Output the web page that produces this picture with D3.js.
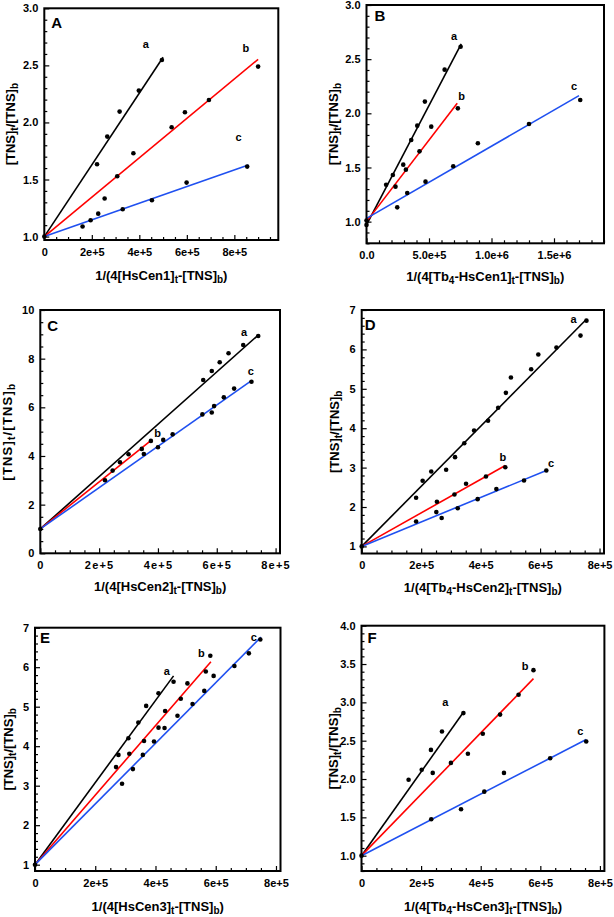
<!DOCTYPE html>
<html><head><meta charset="utf-8">
<script src="https://cdn.jsdelivr.net/npm/d3@7"></script>
<style>
body{margin:0;background:#fff}
svg{display:block}
text{font-family:"Liberation Sans",Arial,Helvetica,sans-serif;font-weight:bold;fill:#000}
</style>
</head><body>
<svg id="chart" width="614" height="917"></svg>
<script>
// ---------- DATA ----------
// Panel A
const A_a = [[0,1],[2.22e5,1.634],[2.65e5,1.876],[3.17e5,2.095],[3.98e5,2.279],[4.95e5,2.547]];
const A_b = [[2.54e5,1.333],[3.07e5,1.528],[3.75e5,1.73],[5.36e5,1.958],[5.92e5,2.089],[6.93e5,2.197],[9.0e5,2.489]];
const A_c = [[1.61e5,1.088],[1.95e5,1.143],[2.27e5,1.201],[3.30e5,1.239],[4.53e5,1.318],[5.99e5,1.473],[8.54e5,1.613]];
const A_fits = [[0,1,5.0e5,2.571],[0,1,9.0e5,2.553],[0,1,8.59e5,1.628]];
const A_labels = [[4.27e5,2.69],[8.49e5,2.655],[8.18e5,1.87]];
// Panel B
const B_a = [[0,0.97],[1.57e5,1.34],[2.11e5,1.43],[2.94e5,1.526],[3.58e5,1.754],[4.06e5,1.886],[4.67e5,2.108],[6.25e5,2.403],[7.53e5,2.615]];
const B_b = [[0,1.01],[2.32e5,1.323],[3.15e5,1.48],[4.24e5,1.649],[5.18e5,1.877],[7.31e5,2.046]];
const B_c = [[2.46e5,1.132],[3.26e5,1.265],[4.72e5,1.369],[6.94e5,1.511],[8.91e5,1.723],[1.30e6,1.902],[1.71e6,2.123]];
const B_fits = [[0,0.97,7.58e5,2.64],[0,1.0,7.26e5,2.092],[0,1.03,1.70e6,2.163]];
const B_labels = [[7.0e5,2.71],[7.61e5,2.157],[1.66e6,2.25]];
// Panel C
const C_a = [[0,1],[5.54e5,7.12],[5.83e5,7.49],[6.1e5,7.85],[6.4e5,8.22],[6.9e5,8.56],[7.41e5,8.93]];
const C_b = [[2.2e5,3.0],[2.46e5,3.4],[2.71e5,3.74],[3.0e5,4.07],[3.45e5,4.29],[3.76e5,4.62]];
const C_c = [[3.52e5,4.08],[4.0e5,4.36],[4.18e5,4.66],[4.5e5,4.89],[5.51e5,5.71],[5.83e5,5.79],[5.91e5,6.05],[6.24e5,6.41],[6.59e5,6.77],[7.18e5,7.05]];
const C_fits = [[0,1,7.41e5,8.97],[0,1,3.79e5,4.66],[0,1,7.18e5,7.1]];
const C_labels = [[6.93e5,9.08],[3.99e5,4.93],[7.16e5,7.49]];
// Panel D
const D_a = [[0,1],[1.83e5,2.234],[2.05e5,2.665],[2.34e5,2.90],[2.84e5,2.944],[3.14e5,3.265],[3.45e5,3.62],[3.78e5,3.94],[4.25e5,4.19],[4.59e5,4.52],[4.85e5,4.897],[5.02e5,5.286],[5.7e5,5.497],[5.94e5,5.87],[6.55e5,6.046],[7.36e5,6.35],[7.56e5,6.73]];
const D_b = [[2.51e5,1.871],[2.53e5,2.133],[3.12e5,2.319],[3.51e5,2.589],[4.18e5,2.775],[4.83e5,3.01]];
const D_c = [[1.83e5,1.634],[2.69e5,1.72],[3.23e5,1.97],[3.9e5,2.2],[4.53e5,2.454],[5.46e5,2.674],[6.21e5,2.927]];
const D_fits = [[0,1,7.56e5,6.765],[0,1,4.83e5,3.054],[0,1,6.21e5,2.927]];
const D_labels = [[7.13e5,6.77],[4.75e5,3.28],[6.37e5,3.11]];
// Panel E
const E_a = [[0,1],[2.69e5,3.47],[2.77e5,3.78],[3.1e5,4.2],[3.43e5,4.6],[3.69e5,5.02],[4.1e5,5.34],[4.6e5,5.63]];
const E_b = [[3.13e5,3.81],[3.62e5,4.13],[4.1e5,4.47],[4.32e5,4.89],[4.84e5,5.2],[5.06e5,5.59],[5.67e5,5.89],[5.82e5,6.29]];
const E_c = [[2.89e5,3.05],[3.25e5,3.42],[3.58e5,3.78],[3.95e5,4.12],[4.3e5,4.46],[4.73e5,4.77],[5.23e5,5.07],[5.62e5,5.4],[5.93e5,5.78],[6.62e5,6.03],[7.1e5,6.35],[7.48e5,6.7]];
const E_fits = [[0,1,4.6e5,5.78],[0,1,5.84e5,6.14],[0,1,7.5e5,6.76]];
const E_labels = [[4.38e5,5.91],[5.52e5,6.35],[7.26e5,6.76]];
// Panel F
const F_a = [[0,1],[1.58e5,1.99],[2.02e5,2.12],[2.33e5,2.38],[2.7e5,2.62],[3.42e5,2.86]];
const F_b = [[2.39e5,2.08],[3.0e5,2.21],[3.57e5,2.33],[4.07e5,2.59],[4.65e5,2.84],[5.27e5,3.1],[5.77e5,3.42]];
const F_c = [[2.34e5,1.476],[3.34e5,1.606],[4.12e5,1.835],[4.78e5,2.08],[6.33e5,2.27],[7.54e5,2.49]];
const F_fits = [[0,1,3.42e5,2.87],[0,1,5.77e5,3.31],[0,1,7.54e5,2.515]];
const F_labels = [[2.81e5,3.0],[5.49e5,3.48],[7.34e5,2.63]];

const seriesNames = ["a","b","c"];
const xTicks8 = [0,2e5,4e5,6e5,8e5];
const xTickLabels8 = ["0","2e+5","4e+5","6e+5","8e+5"];
const xTicksB = [0,5e5,1e6,1.5e6];
const xTickLabelsB = ["0.0","5.0e+5","1.0e+6","1.5e+6"];
const yTicksHalf = [1.0,1.5,2.0,2.5,3.0];
const yTickLabelsHalf = ["1.0","1.5","2.0","2.5","3.0"];
const yTicksC = [0,2,4,6,8,10];
const yTickLabelsC = ["0","2","4","6","8","10"];
const yTicks7 = [1,2,3,4,5,6,7];
const yTickLabels7 = ["1","2","3","4","5","6","7"];
const yTicksF = [1.0,1.5,2.0,2.5,3.0,3.5,4.0];
const yTickLabelsF = ["1.0","1.5","2.0","2.5","3.0","3.5","4.0"];

const yTitle = [["[TNS]",0],["t",1],["/[TNS]",0],["b",1]];
const xTitleA = [["1/(4[HsCen1]",0],["t",1],["-[TNS]",0],["b",1],[")",0]];
const xTitleB = [["1/(4[Tb",0],["4",1],["-HsCen1]",0],["t",1],["-[TNS]",0],["b",1],[")",0]];
const xTitleC = [["1/(4[HsCen2]",0],["t",1],["-[TNS]",0],["b",1],[")",0]];
const xTitleD = [["1/(4[Tb",0],["4",1],["-HsCen2]",0],["t",1],["-[TNS]",0],["b",1],[")",0]];
const xTitleE = [["1/(4[HsCen3]",0],["t",1],["-[TNS]",0],["b",1],[")",0]];
const xTitleF = [["1/(4[Tb",0],["4",1],["-HsCen3]",0],["t",1],["-[TNS]",0],["b",1],[")",0]];

// ---------- STYLE / LAYOUT ----------
const colors = ["#000000","#ff0000","#1f50f0"];
const svg = d3.select("#chart");

function richText(sel, parts, size, subSize){
  let shifted = false;
  parts.forEach(([t,sub])=>{
    const ts = sel.append("tspan").text(t);
    if(sub){ ts.attr("font-size",subSize).attr("dy", shifted?0:3); shifted=true; }
    else { ts.attr("font-size",size).attr("dy", shifted?-3:0); shifted=false; }
  });
}

function range(a,b,s){ const r=[]; for(let v=a; v<=b+1e-9; v+=s) r.push(+v.toFixed(6)); return r; }

function panel(p){
  const {box} = p;
  const x = d3.scaleLinear().domain(p.xDomain).range([box.l, box.r]);
  const y = d3.scaleLinear().domain(p.yDomain).range([box.b, box.t]);
  const g = svg.append("g");
  const ls = p.letterSpacing || 0;

  // minor ticks
  const minX = range(0, p.xDomain[1], p.xMinor).filter(v=>!p.xTicks.some(t=>Math.abs(t-v)<1e-6*p.xDomain[1]));
  const minY = range(p.yMinorStart, p.yDomain[1], p.yMinor).filter(v=>v>=p.yDomain[0] && !p.yTicks.some(t=>Math.abs(t-v)<1e-6));
  g.append("g").attr("transform",`translate(0,${box.b})`)
    .call(d3.axisBottom(x).tickValues(minX).tickSize(-3).tickFormat(""))
    .call(s=>s.select(".domain").remove())
    .selectAll("line").attr("stroke","#000").attr("stroke-width",1.2);
  g.append("g").attr("transform",`translate(${box.l},0)`)
    .call(d3.axisLeft(y).tickValues(minY).tickSize(-3).tickFormat(""))
    .call(s=>s.select(".domain").remove())
    .selectAll("line").attr("stroke","#000").attr("stroke-width",1.2);

  // major ticks
  const xa = g.append("g").attr("transform",`translate(0,${box.b})`)
    .call(d3.axisBottom(x).tickValues(p.xTicks).tickSize(-5).tickPadding(8)
      .tickFormat((d,i)=>p.xTickLabels[i]))
    .call(s=>s.select(".domain").remove());
  xa.selectAll("line").attr("stroke","#000").attr("stroke-width",1.2);
  xa.selectAll("text").attr("font-size",11).attr("font-family",null).attr("fill","#000")
    .style("letter-spacing", ls+"px");
  const ya = g.append("g").attr("transform",`translate(${box.l},0)`)
    .call(d3.axisLeft(y).tickValues(p.yTicks).tickSize(-5).tickPadding(6)
      .tickFormat((d,i)=>p.yTickLabels[i]))
    .call(s=>s.select(".domain").remove());
  ya.selectAll("line").attr("stroke","#000").attr("stroke-width",1.2);
  ya.selectAll("text").attr("font-size",11).attr("font-family",null).attr("fill","#000");

  // fit lines
  p.fits.forEach((f,i)=>{
    g.append("line")
      .attr("x1",x(f[0])).attr("y1",y(f[1])).attr("x2",x(f[2])).attr("y2",y(f[3]))
      .attr("stroke",colors[i]).attr("stroke-width",1.6);
  });
  // points
  p.series.forEach(s=>{
    g.selectAll(null).data(s).enter().append("circle")
      .attr("cx",d=>x(d[0])).attr("cy",d=>y(d[1])).attr("r",2.3).attr("fill","#000");
  });
  // series labels
  p.labels.forEach((l,i)=>{
    g.append("text").attr("x",x(l[0])).attr("y",y(l[1])+4).attr("text-anchor","middle")
      .attr("font-size",11).text(seriesNames[i]);
  });
  // frame
  g.append("rect").attr("x",box.l).attr("y",box.t).attr("width",box.r-box.l).attr("height",box.b-box.t)
    .attr("fill","none").attr("stroke","#000").attr("stroke-width",2);
  // panel letter
  g.append("text").attr("x",box.l+p.letterDx).attr("y",box.t+p.letterDy).attr("font-size",15).text(p.letter);
  // x title
  const xt = g.append("text").attr("x",(box.l+box.r)/2).attr("y",box.b+p.xTitleDy).attr("text-anchor","middle");
  richText(xt, p.xTitle, 13, 10);
  // y title
  const yt = g.append("text").attr("transform",`translate(${box.l-p.yTitleDx},${(box.t+box.b)/2}) rotate(-90)`)
    .attr("y",4.7).attr("text-anchor","middle").style("letter-spacing",(p.yLetterSpacing||0)+"px");
  richText(yt, yTitle, 13, 10);
}

const panels = [
  {letter:"A", box:{l:44.3,r:278.3,t:8.3,b:240}, xDomain:[0,9.85e5], yDomain:[0.97,3.0],
   xTicks:xTicks8, xTickLabels:xTickLabels8, xMinor:5e4, yTicks:yTicksHalf, yTickLabels:yTickLabelsHalf, yMinor:0.1, yMinorStart:1.0,
   series:[A_a,A_b,A_c], fits:A_fits, labels:A_labels, xTitle:xTitleA, xTitleDy:40, yTitleDx:34, letterDx:7, letterDy:20},
  {letter:"B", box:{l:366.5,r:604,t:5,b:243.3}, xDomain:[0,1.9e6], yDomain:[0.8,3.0],
   xTicks:xTicksB, xTickLabels:xTickLabelsB, xMinor:1e5, yTicks:yTicksHalf, yTickLabels:yTickLabelsHalf, yMinor:0.1, yMinorStart:0.8,
   series:[B_a,B_b,B_c], fits:B_fits, labels:B_labels, xTitle:xTitleB, xTitleDy:38, yTitleDx:33, letterDx:8, letterDy:16},
  {letter:"C", box:{l:40.3,r:280,t:310,b:553.3}, xDomain:[0,8.15e5], yDomain:[0,10],
   xTicks:xTicks8, xTickLabels:xTickLabels8, xMinor:5e4, yTicks:yTicksC, yTickLabels:yTickLabelsC, yMinor:0.5, yMinorStart:0,
   series:[C_a,C_b,C_c], fits:C_fits, labels:C_labels, xTitle:xTitleC, xTitleDy:38, yTitleDx:33, letterDx:7, letterDy:21,
   letterSpacing:1.2, yLetterSpacing:1.2},
  {letter:"D", box:{l:361.7,r:604,t:310,b:553.5}, xDomain:[0,8.15e5], yDomain:[0.82,7],
   xTicks:xTicks8, xTickLabels:xTickLabels8, xMinor:5e4, yTicks:yTicks7, yTickLabels:yTickLabels7, yMinor:0.2, yMinorStart:1,
   series:[D_a,D_b,D_c], fits:D_fits, labels:D_labels, xTitle:xTitleD, xTitleDy:38, yTitleDx:27.5, letterDx:3, letterDy:20},
  {letter:"E", box:{l:35,r:280.5,t:627.7,b:871}, xDomain:[0,8.15e5], yDomain:[0.84,7],
   xTicks:xTicks8, xTickLabels:xTickLabels8, xMinor:5e4, yTicks:yTicks7, yTickLabels:yTickLabels7, yMinor:0.2, yMinorStart:1,
   series:[E_a,E_b,E_c], fits:E_fits, labels:E_labels, xTitle:xTitleE, xTitleDy:40, yTitleDx:26.7, letterDx:5, letterDy:15},
  {letter:"F", box:{l:361.5,r:604.4,t:625.7,b:871}, xDomain:[0,8.15e5], yDomain:[0.8,4.0],
   xTicks:xTicks8, xTickLabels:xTickLabels8, xMinor:5e4, yTicks:yTicksF, yTickLabels:yTickLabelsF, yMinor:0.1, yMinorStart:0.8,
   series:[F_a,F_b,F_c], fits:F_fits, labels:F_labels, xTitle:xTitleF, xTitleDy:40, yTitleDx:27.8, letterDx:6, letterDy:17}
];
panels.forEach(panel);
</script>
</body></html>
